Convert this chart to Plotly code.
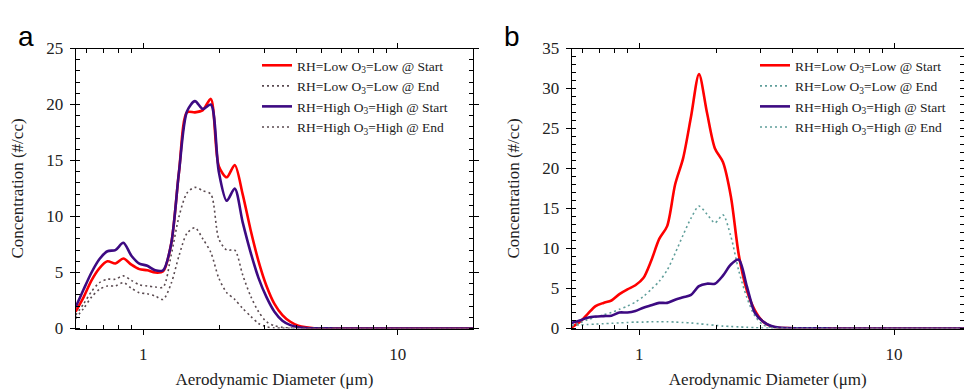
import math
import plotly.graph_objects as go

# APS channel mid-point diameters (um)
diam = [0.542, 0.583, 0.626, 0.673, 0.723, 0.777, 0.835, 0.898, 0.965, 1.037,
        1.114, 1.197, 1.286, 1.382, 1.486, 1.596, 1.715, 1.843, 1.981, 2.129,
        2.288, 2.458, 2.642, 2.839, 3.051, 3.278, 3.523, 3.786, 4.068, 4.371,
        4.698, 5.048, 5.425, 5.829, 6.264, 6.732, 7.234, 7.774, 8.354, 8.977,
        9.647, 10.37, 11.14, 11.97, 12.86, 13.82, 14.86, 15.96, 17.15, 18.43, 19.81]

tail = [0.02, 0.01, 0.01, 0.0, 0.0, 0.0, 0.0, 0.0, 0.0, 0.0, 0.0,
        0.0, 0.0, 0.0, 0.0, 0.0, 0.0, 0.0, 0.0, 0.0, 0.0]

# Panel a
a_low_start = [1.5, 2.8, 4.3, 5.4, 6.0, 5.8, 6.25, 5.7, 5.3, 5.2,
               5.0, 5.1, 7.5, 14.0, 19.3, 19.3, 19.5, 20.5, 14.5, 13.5,
               14.6, 12.0, 8.8, 6.0, 3.8, 2.2, 1.2, 0.6, 0.25, 0.1] + tail
a_low_end = [1.2, 2.2, 3.3, 4.1, 4.4, 4.4, 4.7, 4.3, 3.9, 3.8,
             3.7, 3.7, 6.5, 10.0, 12.1, 12.6, 12.3, 12.0, 8.0, 7.0,
             7.0, 4.8, 2.9, 1.5, 0.6, 0.25, 0.1, 0.05, 0.03, 0.02] + tail
a_high_start = [1.9, 3.5, 5.0, 6.2, 6.9, 7.0, 7.65, 6.5, 5.8, 5.6,
                5.2, 5.2, 7.5, 14.0, 19.4, 20.3, 19.6, 20.0, 14.0, 11.4,
                12.5, 9.5, 6.8, 4.5, 2.8, 1.5, 0.7, 0.3, 0.12, 0.05] + tail
a_high_end = [0.9, 1.8, 2.8, 3.5, 3.8, 3.8, 4.1, 3.6, 3.2, 3.1,
              2.9, 2.6, 4.0, 6.5, 8.5, 9.0, 8.0, 6.8, 4.5, 3.2,
              2.6, 1.8, 1.1, 0.45, 0.15, 0.05, 0.03, 0.02, 0.02, 0.02] + tail

# Panel b
b_low_start = [0.15, 0.8, 1.8, 2.8, 3.2, 3.5, 4.3, 4.9, 5.4, 6.3,
               8.5, 11.2, 12.8, 18.0, 21.3, 26.5, 31.8, 27.0, 22.5, 20.8,
               16.5, 9.2, 4.8, 2.3, 0.9, 0.3, 0.1, 0.05, 0.03, 0.02] + tail
b_low_end = [0.3, 0.7, 1.1, 1.4, 1.7, 2.0, 2.4, 2.8, 3.3, 4.0,
             4.9, 5.9, 7.3, 9.4, 11.7, 13.8, 15.3, 14.3, 13.2, 14.2,
             11.5, 7.2, 3.9, 1.6, 0.5, 0.15, 0.05, 0.03, 0.02, 0.02] + tail
b_high_start = [0.7, 1.0, 1.35, 1.5, 1.55, 1.6, 2.0, 2.0, 2.2, 2.6,
                2.9, 3.2, 3.2, 3.6, 3.9, 4.2, 5.3, 5.6, 5.6, 6.6,
                8.0, 8.6, 5.3, 2.0, 0.9, 0.35, 0.12, 0.05, 0.03, 0.02] + tail
b_high_end = [0.4, 0.45, 0.5, 0.55, 0.6, 0.65, 0.7, 0.75, 0.8, 0.8,
              0.85, 0.85, 0.85, 0.8, 0.75, 0.7, 0.6, 0.5, 0.4, 0.3,
              0.25, 0.2, 0.15, 0.1, 0.07, 0.05, 0.03, 0.02, 0.02, 0.02] + tail

x_major_ticks = [1, 10]
x_minor_ticks = [0.6, 0.7, 0.8, 0.9, 2, 3, 4, 5, 6, 7, 8, 9, 20]

names = ["RH=Low O<sub>3</sub>=Low @ Start", "RH=Low O<sub>3</sub>=Low @ End",
         "RH=High O<sub>3</sub>=High @ Start", "RH=High O<sub>3</sub>=High @ End"]

RED = "#ff0000"
PURPLE = "#3d0a82"
DOT_A = "#5a4a50"
DOT_B = "#5f9e9a"
SERIF = "Liberation Serif"
TXT = "#222222"

fig = go.Figure()

panels = [
    ("x", "y", "legend", [a_low_start, a_low_end, a_high_start, a_high_end], DOT_A),
    ("x2", "y2", "legend2", [b_low_start, b_low_end, b_high_start, b_high_end], DOT_B),
]
for xa, ya, lg, series, dotc in panels:
    styles = [dict(color=RED, width=2.6), dict(color=dotc, width=1.6, dash="2px,3px"),
              dict(color=PURPLE, width=2.6), dict(color=dotc, width=1.6, dash="2px,3px")]
    for nm, vals, st in zip(names, series, styles):
        fig.add_trace(go.Scatter(x=diam, y=vals, mode="lines", name=nm,
                                 line=dict(shape="spline", smoothing=0.8, **st),
                                 xaxis=xa, yaxis=ya, legend=lg))

W, H = 964, 389
xdom_a = [75.6 / W, 473.2 / W]
xdom_b = [571.6 / W, 1.0]
ydom = [60.5 / H, 1 - 48.5 / H]

xr_a = [math.log10(0.542), math.log10(19.81)]
xr_b = [math.log10(0.542), (964 - 639.3) / 254.7]

common_x = dict(type="log", tickmode="array", tickvals=x_major_ticks, ticktext=["1", "10"],
                showline=True, linecolor="black", linewidth=1, automargin=False,
                mirror="ticks", ticks="outside", ticklen=5, tickcolor="black",
                ticklabelstandoff=5,
                minor=dict(ticks="inside", ticklen=4, tickcolor="black", tickwidth=1,
                           tickmode="array", tickvals=x_minor_ticks),
                showgrid=False, zeroline=False,
                tickfont=dict(family=SERIF, size=17, color=TXT),
                title=dict(text="Aerodynamic Diameter (\u03bcm)",
                           font=dict(family=SERIF, size=17, color=TXT), standoff=23))
common_y = dict(showline=True, linecolor="black", linewidth=1, mirror="ticks",
                automargin=False,
                ticks="outside", ticklen=5, tickcolor="black", dtick=5,
                ticklabelstandoff=3,
                minor=dict(ticks="inside", ticklen=4, tickcolor="black", tickwidth=1, dtick=1),
                showgrid=False, zeroline=False,
                tickfont=dict(family=SERIF, size=17, color=TXT),
                title=dict(text="Concentration (#/cc)",
                           font=dict(family=SERIF, size=17, color=TXT), standoff=18))

leg_common = dict(xanchor="left", yanchor="top", bgcolor="rgba(0,0,0,0)",
                  font=dict(family=SERIF, size=13.5, color=TXT),
                  tracegroupgap=0, itemwidth=30)

fig.update_layout(
    width=W, height=H, margin=dict(l=0, r=0, t=0, b=0, autoexpand=False),
    paper_bgcolor="white", plot_bgcolor="white",
    xaxis=dict(domain=xdom_a, range=xr_a, anchor="y", **common_x),
    yaxis=dict(domain=ydom, range=[0, 25], anchor="x", **common_y),
    xaxis2=dict(domain=xdom_b, range=xr_b, anchor="y2", **common_x),
    yaxis2=dict(domain=ydom, range=[0, 35], anchor="x2", **common_y),
    legend=dict(x=257 / W, y=1 - 50 / H, **leg_common),
    legend2=dict(x=755 / W, y=1 - 50 / H, **leg_common),
    showlegend=True,
    annotations=[
        dict(text="a", x=16 / W, y=1 - 19 / H, xref="paper", yref="paper", showarrow=False,
             font=dict(family="Liberation Sans", size=28, color="black")),
        dict(text="b", x=512 / W, y=1 - 19 / H, xref="paper", yref="paper", showarrow=False,
             font=dict(family="Liberation Sans", size=28, color="black")),
    ],
)

fig.write_html("out.html")
